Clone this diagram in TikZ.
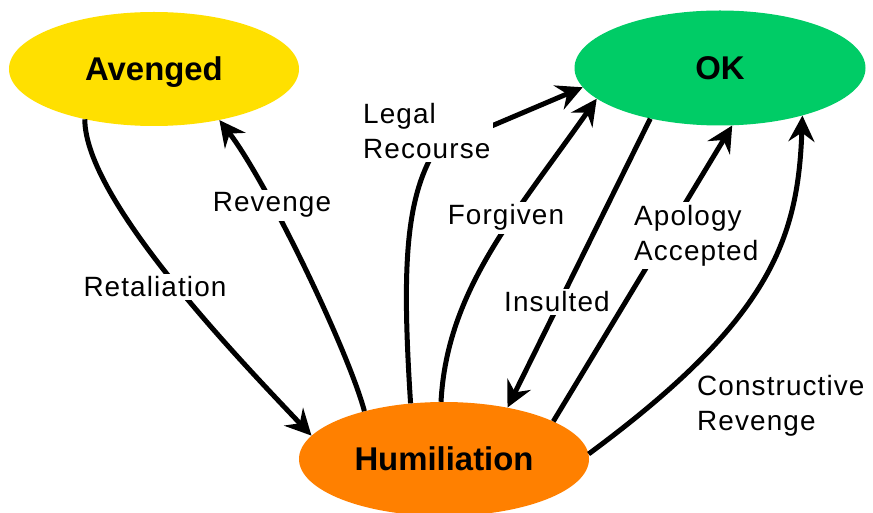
\documentclass[tikz,border=0pt]{standalone}
\usepackage{fontspec}
\setmainfont{Liberation Sans}
\newfontfamily\lblfont[LetterSpace=4]{Liberation Sans}
\usetikzlibrary{shapes.geometric,arrows.meta}
\definecolor{avyellow}{RGB}{255,224,0}
\definecolor{okgreen}{RGB}{0,204,102}
\definecolor{humorange}{RGB}{255,128,0}
\tikzset{
  state/.style={ellipse, draw=none, inner sep=0pt, minimum width=290bp, minimum height=114bp,
    font=\bfseries\fontsize{33}{40}\selectfont, text height=23.6bp, text depth=0bp},
  arr/.style={line width=5bp, -{Stealth[length=26bp,width=26bp,inset=9bp]}},
  lbl/.style={fill=white, inner sep=3bp, font=\lblfont\fontsize{28}{35}\selectfont},
  lbltwo/.style={lbl, align=left, anchor=north west},
}
\begin{document}
\begin{tikzpicture}[x=1bp,y=-1bp]
\useasboundingbox[fill=white] (0,0) rectangle (873,513);
\node[state, fill=avyellow] (A) at (154,69) {Avenged};
\node[state, fill=okgreen, minimum width=291bp, minimum height=115bp] (O) at (720,68) {OK};
\node[state, fill=humorange] (H) at (444,459) {Humiliation};

\draw[arr] (A.216) .. controls (85,200) and (240,360) .. (H.170.7);
\draw[arr] (H.149) .. controls (348,350) and (267,182) .. (A.322.6);
\draw[arr] (H.121.4) .. controls (402,270) and (405,200) .. (435,150) -- (O.188.2);
\draw[arr] (H.93) .. controls (447,290) and (515,215) .. (O.194.4);
\draw[arr] (O.216.3) -- (H.39.9);
\draw[arr] (H.19.7) -- (O.282.2);
\draw[arr] (H.2.4) .. controls (770,320) and (798,240) .. (O.330);

\node[lbl, anchor=base] (lret) at (155,297) {Retaliation};
\node[lbl, anchor=base] (lrev) at (272,212) {Revenge};
\node[lbl, anchor=base] (lfor) at (506,225) {Forgiven};
\node[lbl, anchor=base] (lins) at (557,312) {Insulted};
\node[lbltwo] (lleg) at (360,100) {Legal\\Recourse};
\node[lbltwo] (lapo) at (631,202) {Apology\\Accepted};
\node[lbltwo] (lcon) at (694,372) {Constructive\\Revenge};
\end{tikzpicture}
\end{document}
